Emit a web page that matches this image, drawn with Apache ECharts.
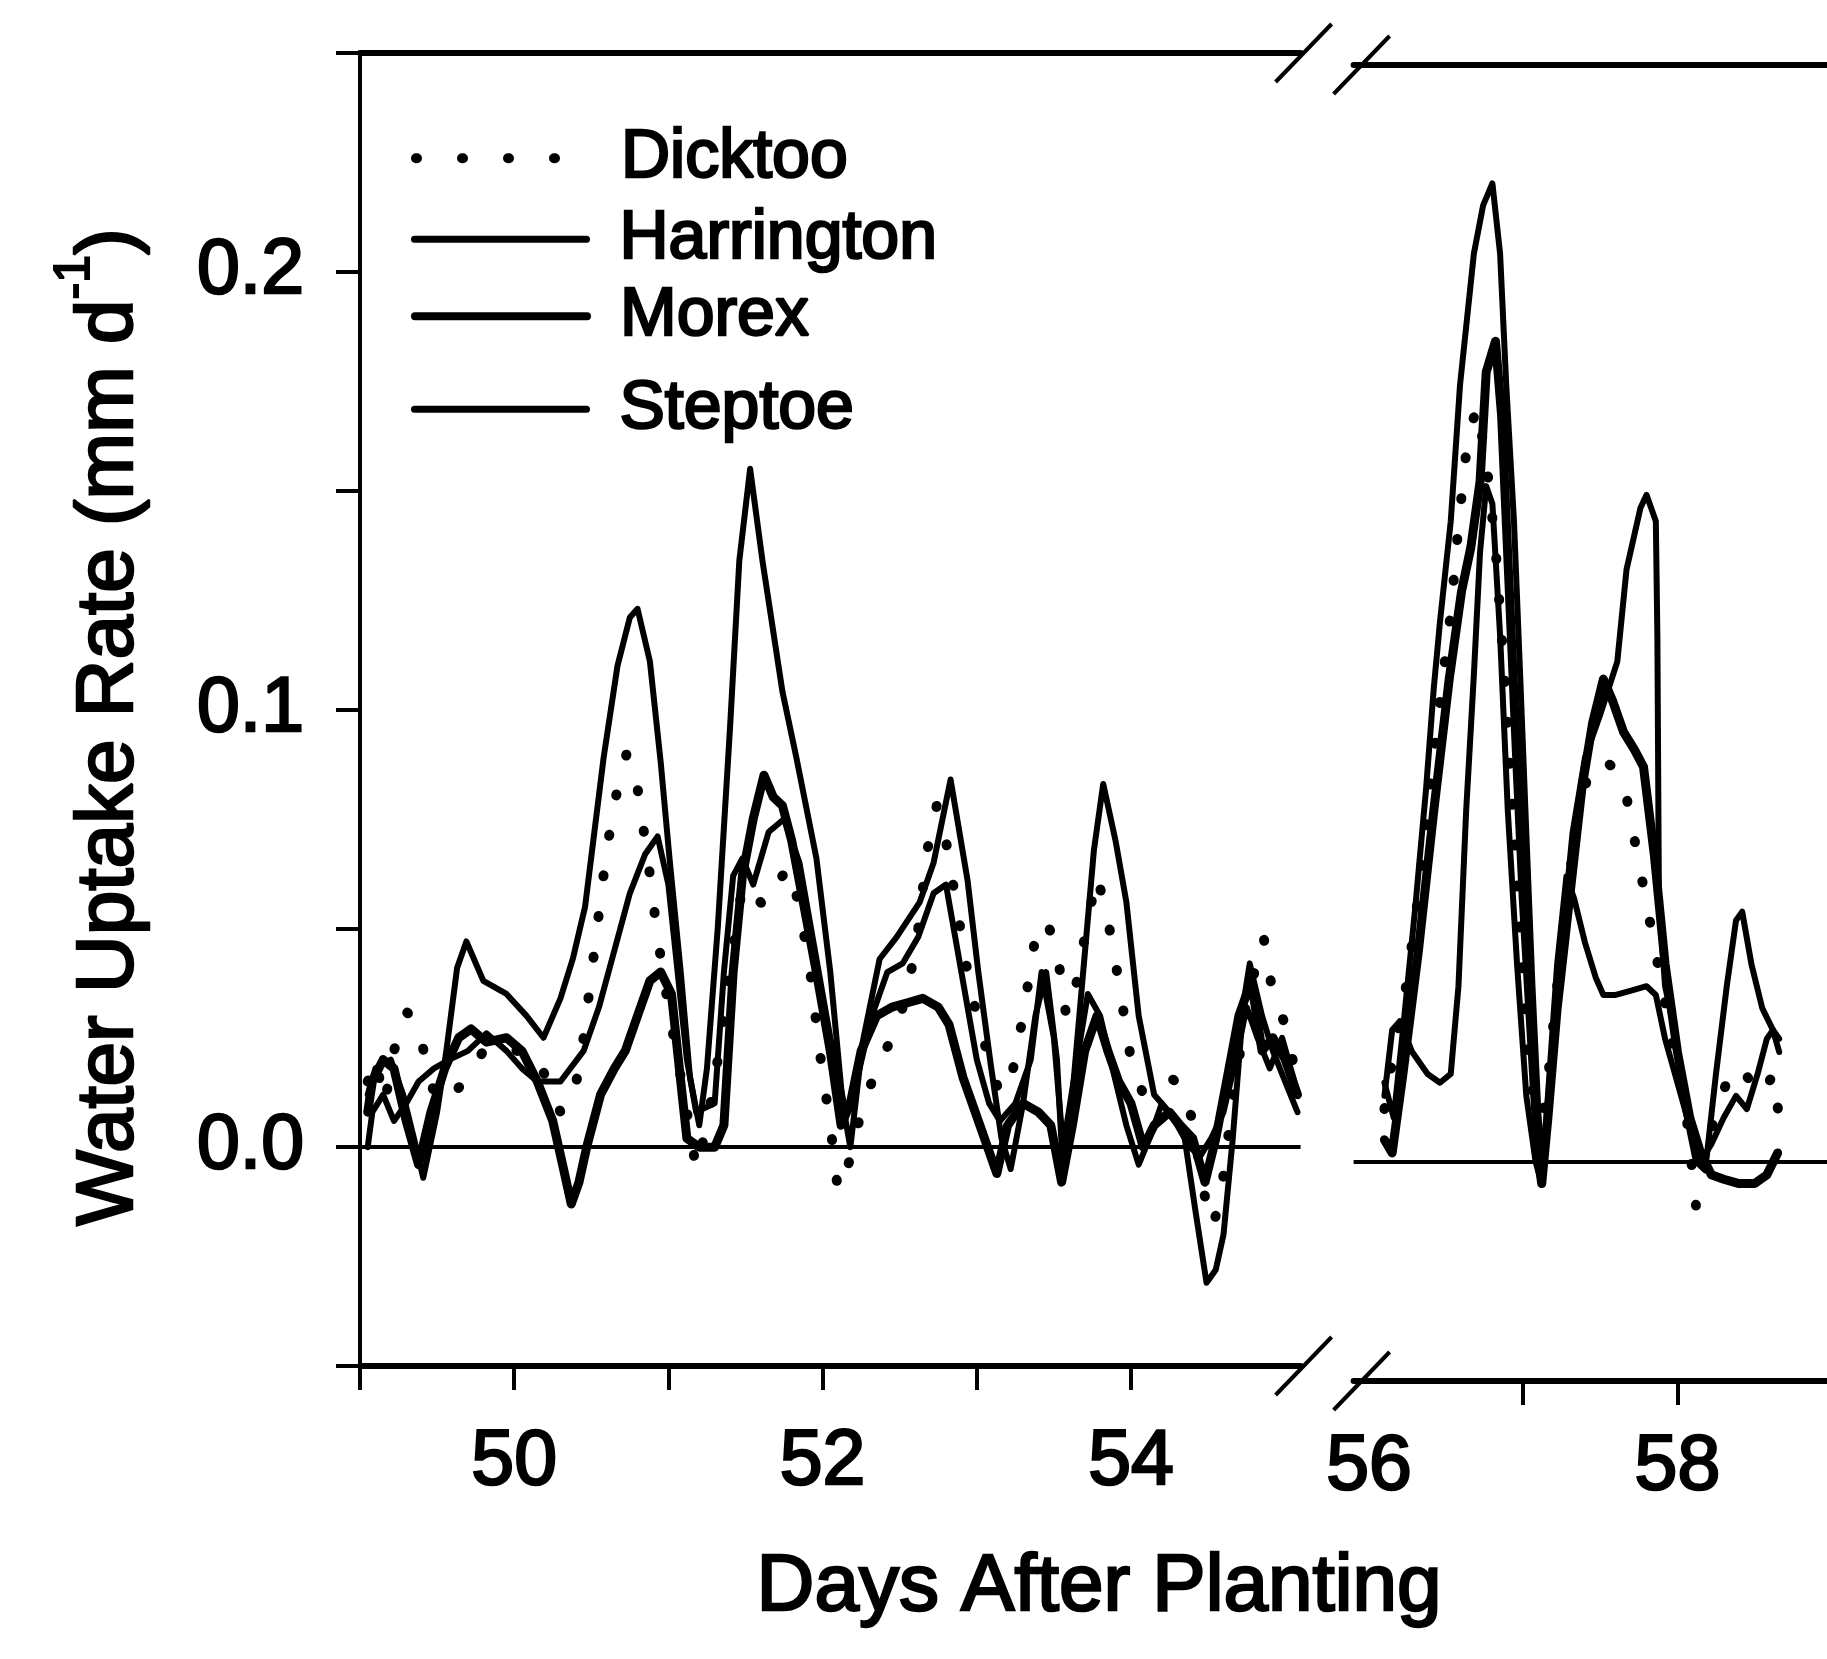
<!DOCTYPE html>
<html>

<head>
    <meta charset="utf-8">
    <title>Water Uptake Rate</title>
    <script src="https://cdn.jsdelivr.net/npm/echarts@6/dist/echarts.min.js"></script>
</head>

<body style="margin:0;background:#fff;">
    <div id="main" style="width:1827px;height:1659px;"></div>
    <script type="text/javascript">
        // [day, rate] pairs, the x axis is broken between day 55 and 56
        var dicktooLeft = [
            [49.05, 0.015], [49.10, 0.020], [49.16, 0.010], [49.22, 0.022], [49.30, 0.031], [49.38, 0.028],
            [49.45, 0.015], [49.52, 0.010], [49.60, 0.012], [49.70, 0.016], [49.80, 0.022], [49.92, 0.024],
            [50.02, 0.022], [50.12, 0.022], [50.22, 0.015], [50.30, 0.008], [50.38, 0.010], [50.45, 0.025],
            [50.52, 0.045], [50.60, 0.068], [50.67, 0.082], [50.73, 0.090], [50.80, 0.082], [50.87, 0.065],
            [50.93, 0.048], [51.00, 0.032], [51.06, 0.020], [51.12, 0.008], [51.18, -0.005], [51.25, 0.005],
            [51.32, 0.020], [51.40, 0.040], [51.48, 0.060], [51.55, 0.058], [51.62, 0.055], [51.70, 0.060],
            [51.78, 0.064], [51.85, 0.055], [51.92, 0.040], [51.98, 0.022], [52.05, 0.005], [52.10, -0.010],
            [52.16, -0.005], [52.25, 0.008], [52.35, 0.018], [52.45, 0.025], [52.55, 0.035], [52.62, 0.050],
            [52.68, 0.068], [52.74, 0.078], [52.80, 0.070], [52.87, 0.055], [52.94, 0.040], [53.00, 0.030],
            [53.08, 0.020], [53.15, 0.012], [53.22, 0.015], [53.30, 0.030], [53.38, 0.048], [53.45, 0.052],
            [53.52, 0.045], [53.58, 0.030], [53.65, 0.038], [53.72, 0.052], [53.78, 0.062], [53.85, 0.052],
            [53.92, 0.038], [54.00, 0.020], [54.08, 0.012], [54.15, 0.014], [54.25, 0.016], [54.33, 0.014],
            [54.40, 0.006], [54.47, -0.010], [54.53, -0.018], [54.58, -0.012], [54.64, 0.005], [54.72, 0.025],
            [54.80, 0.040], [54.86, 0.048], [54.92, 0.035], [55.00, 0.028], [55.06, 0.018]
        ];
        var harringtonLeft = [
            [49.05, 0.012], [49.10, 0.018], [49.20, 0.020], [49.28, 0.012], [49.35, 0.002], [49.41, -0.007],
            [49.50, 0.008], [49.56, 0.022], [49.63, 0.041], [49.69, 0.047], [49.80, 0.038], [49.95, 0.035],
            [50.08, 0.030], [50.19, 0.025], [50.30, 0.034], [50.38, 0.043], [50.46, 0.055], [50.58, 0.089],
            [50.67, 0.110], [50.75, 0.121], [50.80, 0.123], [50.88, 0.111], [50.95, 0.088], [51.01, 0.065],
            [51.08, 0.040], [51.14, 0.016], [51.20, 0.005], [51.25, 0.018], [51.32, 0.050], [51.40, 0.096],
            [51.46, 0.134], [51.53, 0.155], [51.61, 0.134], [51.74, 0.104], [51.83, 0.089], [51.96, 0.066],
            [52.05, 0.040], [52.13, 0.010], [52.18, 0.000], [52.26, 0.024], [52.37, 0.043], [52.48, 0.048],
            [52.63, 0.056], [52.72, 0.065], [52.83, 0.084], [52.94, 0.061], [53.01, 0.040], [53.09, 0.019],
            [53.16, 0.002], [53.22, -0.005], [53.30, 0.010], [53.38, 0.030], [53.45, 0.040], [53.52, 0.020],
            [53.56, -0.006], [53.62, 0.012], [53.69, 0.040], [53.76, 0.068], [53.82, 0.083], [53.90, 0.070],
            [53.97, 0.056], [54.05, 0.030], [54.15, 0.012], [54.25, 0.008], [54.34, 0.004], [54.42, -0.015],
            [54.49, -0.031], [54.55, -0.028], [54.60, -0.020], [54.66, 0.002], [54.73, 0.033], [54.77, 0.042],
            [54.85, 0.030], [54.92, 0.022], [55.00, 0.015], [55.08, 0.008]
        ];
        var morexLeft = [
            [49.05, 0.008], [49.08, 0.015], [49.15, 0.020], [49.22, 0.018], [49.30, 0.006], [49.38, -0.004],
            [49.46, 0.008], [49.55, 0.018], [49.64, 0.025], [49.72, 0.027], [49.82, 0.024], [49.95, 0.025],
            [50.05, 0.022], [50.15, 0.015], [50.25, 0.006], [50.32, -0.005], [50.37, -0.013], [50.42, -0.008],
            [50.47, 0.000], [50.56, 0.012], [50.65, 0.018], [50.72, 0.022], [50.80, 0.030], [50.88, 0.038],
            [50.95, 0.040], [51.02, 0.035], [51.08, 0.015], [51.12, 0.002], [51.20, 0.000], [51.30, 0.000],
            [51.36, 0.005], [51.42, 0.040], [51.48, 0.062], [51.55, 0.075], [51.62, 0.085], [51.68, 0.080],
            [51.74, 0.078], [51.80, 0.070], [51.88, 0.055], [51.96, 0.040], [52.05, 0.022], [52.12, 0.005],
            [52.18, 0.010], [52.25, 0.022], [52.35, 0.030], [52.45, 0.032], [52.55, 0.033], [52.65, 0.034],
            [52.75, 0.032], [52.82, 0.028], [52.91, 0.016], [53.02, 0.005], [53.13, -0.006], [53.20, 0.005],
            [53.30, 0.010], [53.40, 0.008], [53.48, 0.005], [53.55, -0.008], [53.62, 0.005], [53.70, 0.022],
            [53.78, 0.030], [53.85, 0.022], [53.92, 0.015], [54.00, 0.010], [54.08, 0.000], [54.15, 0.005],
            [54.25, 0.008], [54.32, 0.005], [54.40, 0.002], [54.48, -0.008], [54.55, 0.002], [54.62, 0.015],
            [54.70, 0.030], [54.78, 0.038], [54.85, 0.022], [54.92, 0.025], [55.00, 0.020], [55.08, 0.012]
        ];
        var steptoeLeft = [
            [49.05, 0.000], [49.08, 0.008], [49.15, 0.012], [49.22, 0.006], [49.30, 0.010], [49.38, 0.015],
            [49.48, 0.018], [49.58, 0.020], [49.70, 0.022], [49.82, 0.026], [49.95, 0.022], [50.05, 0.018],
            [50.15, 0.015], [50.30, 0.015], [50.45, 0.022], [50.55, 0.032], [50.65, 0.045], [50.75, 0.058],
            [50.85, 0.067], [50.93, 0.071], [51.00, 0.060], [51.06, 0.040], [51.12, 0.020], [51.18, 0.008],
            [51.30, 0.010], [51.36, 0.040], [51.42, 0.062], [51.48, 0.066], [51.55, 0.060], [51.65, 0.072],
            [51.75, 0.075], [51.85, 0.065], [51.95, 0.045], [52.05, 0.025], [52.15, 0.008], [52.22, 0.015],
            [52.32, 0.030], [52.42, 0.040], [52.52, 0.042], [52.62, 0.048], [52.72, 0.058], [52.80, 0.060],
            [52.90, 0.040], [53.00, 0.020], [53.08, 0.010], [53.15, 0.006], [53.25, 0.010], [53.35, 0.020],
            [53.42, 0.040], [53.50, 0.025], [53.56, 0.000], [53.65, 0.020], [53.72, 0.035], [53.80, 0.030],
            [53.88, 0.018], [53.97, 0.005], [54.05, -0.004], [54.12, 0.002], [54.20, 0.010], [54.30, 0.005],
            [54.38, 0.000], [54.45, -0.002], [54.52, 0.002], [54.60, 0.008], [54.68, 0.020], [54.75, 0.032],
            [54.82, 0.025], [54.90, 0.018], [54.98, 0.025], [55.06, 0.015]
        ];

        var dicktooRight = [
            [56.10, 0.012], [56.16, 0.025], [56.22, 0.035], [56.30, 0.055], [56.38, 0.080], [56.46, 0.105],
            [56.53, 0.125], [56.58, 0.145], [56.64, 0.165], [56.70, 0.172], [56.76, 0.160], [56.82, 0.140],
            [56.88, 0.110], [56.94, 0.075], [57.00, 0.040], [57.05, 0.020], [57.10, 0.005], [57.15, 0.015],
            [57.22, 0.040], [57.30, 0.065], [57.36, 0.080], [57.42, 0.088], [57.50, 0.092], [57.58, 0.090],
            [57.66, 0.085], [57.74, 0.070], [57.82, 0.055], [57.90, 0.040], [57.98, 0.025], [58.06, 0.010],
            [58.12, -0.010], [58.18, 0.000], [58.25, 0.012], [58.32, 0.018], [58.40, 0.022], [58.48, 0.018],
            [58.55, 0.015], [58.62, 0.020], [58.66, 0.010]
        ];
        var harringtonRight = [
            [56.10, 0.018], [56.16, 0.010], [56.22, 0.030], [56.30, 0.058], [56.37, 0.085], [56.42, 0.108],
            [56.46, 0.123], [56.53, 0.146], [56.59, 0.177], [56.68, 0.207], [56.74, 0.218], [56.80, 0.223],
            [56.85, 0.207], [56.89, 0.177], [56.94, 0.146], [56.98, 0.111], [57.02, 0.075], [57.06, 0.040],
            [57.10, 0.010], [57.13, 0.000], [57.19, 0.022], [57.25, 0.050], [57.32, 0.075], [57.40, 0.092],
            [57.50, 0.102], [57.61, 0.114], [57.67, 0.135], [57.76, 0.149], [57.80, 0.152], [57.86, 0.146],
            [57.87, 0.120], [57.88, 0.060], [57.92, 0.040], [57.98, 0.030], [58.05, 0.012], [58.12, 0.000],
            [58.18, -0.002], [58.25, 0.020], [58.32, 0.040], [58.38, 0.055], [58.42, 0.057], [58.48, 0.045],
            [58.55, 0.035], [58.62, 0.030], [58.66, 0.025]
        ];
        var morexRight = [
            [56.10, 0.005], [56.15, 0.002], [56.22, 0.020], [56.32, 0.048], [56.42, 0.080], [56.52, 0.110],
            [56.60, 0.130], [56.66, 0.140], [56.72, 0.155], [56.76, 0.180], [56.82, 0.187], [56.86, 0.170],
            [56.91, 0.130], [56.96, 0.090], [57.00, 0.060], [57.05, 0.030], [57.10, 0.000], [57.12, -0.005],
            [57.16, 0.010], [57.22, 0.035], [57.30, 0.060], [57.38, 0.085], [57.45, 0.100], [57.52, 0.110],
            [57.58, 0.105], [57.65, 0.098], [57.72, 0.094], [57.78, 0.090], [57.85, 0.070], [57.92, 0.045],
            [58.00, 0.025], [58.08, 0.010], [58.15, 0.002], [58.22, -0.003], [58.30, -0.004], [58.40, -0.005],
            [58.50, -0.005], [58.58, -0.003], [58.65, 0.002]
        ];
        var steptoeRight = [
            [56.10, 0.015], [56.15, 0.030], [56.20, 0.032], [56.28, 0.025], [56.38, 0.020], [56.46, 0.018],
            [56.53, 0.020], [56.58, 0.040], [56.63, 0.080], [56.68, 0.111], [56.72, 0.139], [56.76, 0.154],
            [56.80, 0.150], [56.85, 0.120], [56.90, 0.080], [56.96, 0.045], [57.02, 0.015], [57.08, 0.000],
            [57.12, -0.005], [57.17, 0.020], [57.22, 0.045], [57.28, 0.065], [57.33, 0.060], [57.40, 0.050],
            [57.47, 0.042], [57.52, 0.038], [57.60, 0.038], [57.70, 0.039], [57.80, 0.040], [57.86, 0.038],
            [57.92, 0.028], [58.00, 0.018], [58.08, 0.008], [58.15, 0.000], [58.22, 0.004], [58.30, 0.010],
            [58.38, 0.015], [58.45, 0.012], [58.52, 0.020], [58.58, 0.028], [58.62, 0.030], [58.66, 0.028]
        ];

        var xTicksLeft = [49, 50, 51, 52, 53, 54];
        var xLabelsLeft = [50, 52, 54];
        var xTicksRight = [57, 58];
        var xLabelsRight = [56, 58];
        var yLabels = [0, 0.1, 0.2];

        var FONT = '"Liberation Sans", Arial, sans-serif';
        var myChart = echarts.init(document.getElementById('main'));

        var thin = { color: '#000', width: 6, cap: 'round', join: 'round' };
        var thick = { color: '#000', width: 9, cap: 'round', join: 'round' };
        var dots = { color: '#000', width: 10, type: [1, 40], cap: 'round', join: 'round' };

        var zeroLine = {
            silent: true, symbol: 'none', label: { show: false },
            lineStyle: { color: '#000', width: 4, type: 'solid' },
            data: [{ yAxis: 0 }]
        };

        function line(name, data, grid, style, withZero) {
            var s = {
                name: name, type: 'line', xAxisIndex: grid * 2, yAxisIndex: grid,
                data: data, symbol: 'none', smooth: false,
                itemStyle: { color: '#000' }, lineStyle: style
            };
            if (withZero) s.markLine = zeroLine;
            return s;
        }

        function legendAt(name, top, lineStyle) {
            return {
                data: [name], left: 411, top: top, padding: 0, orient: 'vertical',
                itemWidth: 172, itemHeight: 20, selectedMode: false,
                itemStyle: { opacity: 0 }, lineStyle: lineStyle,
                textStyle: {
                    fontFamily: FONT, fontSize: 68, lineHeight: 68, color: '#000',
                    padding: [0, 0, 0, 28], textBorderColor: '#000', textBorderWidth: 2.5
                }
            };
        }

        function bottomAxis(grid, min, max, ticks, labels, margin) {
            return {
                type: 'value', gridIndex: grid, position: 'bottom', min: min, max: max,
                axisLine: { onZero: false, lineStyle: { color: '#000', width: 6 } },
                axisTick: { customValues: ticks, length: 24, lineStyle: { color: '#000', width: 4 } },
                axisLabel: {
                    customValues: labels, margin: margin, fontFamily: FONT, fontSize: 77, color: '#000',
                    textBorderColor: '#000', textBorderWidth: 2.5
                },
                splitLine: { show: false }
            };
        }

        function topAxis(grid, min, max) {
            return {
                type: 'value', gridIndex: grid, position: 'top', min: min, max: max,
                axisLine: { onZero: false, lineStyle: { color: '#000', width: 6 } },
                axisTick: { show: false }, axisLabel: { show: false }, splitLine: { show: false }
            };
        }

        var option = {
            backgroundColor: '#fff',
            animation: false,
            grid: [
                { left: 360, top: 53, width: 940.6, height: 1313 },
                { left: 1353.6, top: 65, width: 473.4, height: 1316 }
            ],
            xAxis: [
                bottomAxis(0, 49, 55.1, xTicksLeft, xLabelsLeft, 58),
                topAxis(0, 49, 55.1),
                bottomAxis(1, 55.9, 58.97, xTicksRight, xLabelsRight, 48),
                topAxis(1, 55.9, 58.97)
            ],
            yAxis: [
                {
                    type: 'value', gridIndex: 0, min: -0.05, max: 0.25, interval: 0.05,
                    axisLine: { show: true, onZero: false, lineStyle: { color: '#000', width: 4 } },
                    axisTick: { length: 24, lineStyle: { color: '#000', width: 4 } },
                    axisLabel: {
                        customValues: yLabels, margin: 56, fontFamily: FONT, fontSize: 77, color: '#000',
                        textBorderColor: '#000', textBorderWidth: 2.5,
                        formatter: function (v) { return v.toFixed(1); }
                    },
                    splitLine: { show: false }
                },
                {
                    type: 'value', gridIndex: 1, min: -0.05, max: 0.25, interval: 0.05,
                    axisLine: { show: false }, axisTick: { show: false }, axisLabel: { show: false },
                    splitLine: { show: false }
                }
            ],
            legend: [
                legendAt('Dicktoo', 123, { width: 10, type: [1, 45], cap: 'round' }),
                legendAt('Harrington', 204, { width: 7 }),
                legendAt('Morex', 281, { width: 8 }),
                legendAt('Steptoe', 374, { width: 7 })
            ],
            series: [
                line('Dicktoo', dicktooLeft, 0, dots),
                line('Harrington', harringtonLeft, 0, thin, true),
                line('Morex', morexLeft, 0, thick),
                line('Steptoe', steptoeLeft, 0, thin),
                line('Dicktoo', dicktooRight, 1, dots),
                line('Harrington', harringtonRight, 1, thin, true),
                line('Morex', morexRight, 1, thick),
                line('Steptoe', steptoeRight, 1, thin)
            ]
        };
        myChart.setOption(option);

        // axis titles and the // break marks, placed from the axes' own scales
        var leftTop = myChart.convertToPixel({ gridIndex: 0 }, [55.1, 0.25]);
        var leftBot = myChart.convertToPixel({ gridIndex: 0 }, [55.1, -0.05]);
        var rightTop = myChart.convertToPixel({ gridIndex: 1 }, [55.9, 0.25]);
        var rightBot = myChart.convertToPixel({ gridIndex: 1 }, [55.9, -0.05]);

        function slash(id, cx, cy) {
            return {
                id: id, type: 'line', z: 100,
                shape: { x1: cx - 28, y1: cy + 29, x2: cx + 28, y2: cy - 29 },
                style: { stroke: '#000', lineWidth: 4 }
            };
        }

        myChart.setOption({
            graphic: [
                slash('s1', leftTop[0] + 3, leftTop[1]),
                slash('s2', rightTop[0] + 8, rightTop[1]),
                slash('s3', leftBot[0] + 3, leftBot[1]),
                slash('s4', rightBot[0] + 8, rightBot[1]),
                {
                    id: 'xname', type: 'text', x: 1099, y: 1588,
                    style: {
                        text: 'Days After Planting', fontFamily: FONT, fontSize: 80, fill: '#000',
                        stroke: '#000', lineWidth: 2.5, align: 'center', verticalAlign: 'middle'
                    }
                },
                {
                    id: 'yname', type: 'text', x: 100, y: 727, rotation: Math.PI / 2,
                    style: {
                        text: '{n|Water Uptake Rate (mm d}{sup|-1}{n|)}',
                        fontFamily: FONT, fill: '#000', align: 'center', verticalAlign: 'middle',
                        rich: {
                            n: { fontFamily: FONT, fontSize: 80, lineHeight: 100, verticalAlign: 'bottom', fill: '#000', stroke: '#000', lineWidth: 2.5 },
                            sup: { fontFamily: FONT, fontSize: 50, lineHeight: 50, verticalAlign: 'top', fill: '#000', stroke: '#000', lineWidth: 2 }
                        }
                    }
                }
            ]
        });
    </script>
</body>

</html>
